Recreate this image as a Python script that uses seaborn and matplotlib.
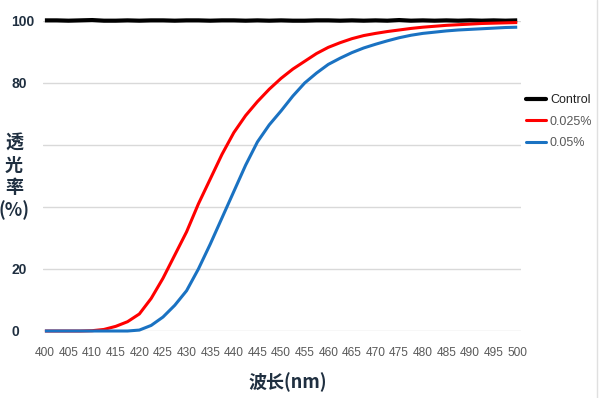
import matplotlib
matplotlib.use("Agg")
import matplotlib.pyplot as plt
import seaborn as sns
import pandas as pd
from matplotlib.lines import Line2D

wavelength = [400, 402.5, 405, 407.5, 410, 412.5, 415, 417.5, 420, 422.5, 425, 427.5,
              430, 432.5, 435, 437.5, 440, 442.5, 445, 447.5, 450, 452.5, 455, 457.5,
              460, 462.5, 465, 467.5, 470, 472.5, 475, 477.5, 480, 482.5, 485, 487.5,
              490, 492.5, 495, 497.5, 500]
control = [100.2, 100.2, 100.1, 100.2, 100.3, 100.1, 100.1, 100.2, 100.1, 100.2, 100.2, 100.1,
           100.2, 100.2, 100.1, 100.2, 100.2, 100.1, 100.2, 100.1, 100.2, 100.1, 100.1, 100.2,
           100.2, 100.1, 100.2, 100.1, 100.2, 100.1, 100.3, 100.1, 100.2, 100.1, 100.2, 100.1,
           100.2, 100.1, 100.2, 100.1, 100.2]
conc_0025 = [0, 0, 0, 0, 0.1, 0.5, 1.5, 3.0, 5.5, 10.5, 17, 24.5,
             32, 41, 49, 57, 64, 69.5, 74, 78, 81.5, 84.5, 87, 89.5,
             91.5, 93, 94.3, 95.3, 96, 96.6, 97.1, 97.6, 98, 98.3, 98.6, 98.8,
             99, 99.2, 99.3, 99.4, 99.5]
conc_005 = [0, 0, 0, 0, 0, 0, 0, 0, 0.3, 1.8, 4.5, 8.3,
            13, 20, 28, 36.5, 45, 53.5, 61, 66.5, 71, 75.8, 80, 83.2,
            86, 88, 89.8, 91.3, 92.5, 93.6, 94.6, 95.4, 96, 96.4, 96.8, 97.1,
            97.3, 97.5, 97.7, 97.9, 98]
series_names = ["Control", "0.025%", "0.05%"]
series_colors = ["#000000", "#ff0000", "#1a72c2"]
x_ticks = list(range(400, 505, 5))
y_ticks = [0, 20, 40, 60, 80, 100]
y_tick_labels = ["0", "20", "", "", "80", "100"]

df = pd.DataFrame({
    "wavelength": wavelength * 3,
    "value": control + conc_0025 + conc_005,
    "series": [series_names[0]] * len(wavelength) + [series_names[1]] * len(wavelength)
              + [series_names[2]] * len(wavelength),
})

sns.set_theme(style="white")
plt.rcParams['font.family'] = ['Liberation Sans', 'DejaVu Sans']

fig = plt.figure(figsize=(6.0, 3.98), dpi=100)
ax = fig.add_axes([43 / 600, 1 - 331 / 398, (521 - 43) / 600, (331 - 21) / 398])

sns.lineplot(data=df, x="wavelength", y="value", hue="series",
             palette=dict(zip(series_names, series_colors)), ax=ax, legend=False)
for line, lw in zip(ax.get_lines(), [3.0, 2.2, 2.2]):
    line.set_linewidth(lw)
    line.set_clip_on(False)
    line.set_solid_capstyle("butt")

ax.set_xlim(399.6, 500.8)
ax.set_ylim(0, 100)
for yv in y_ticks:
    ax.axhline(yv, color="#d9d9d9", lw=1.0, zorder=0)
ax.grid(False)
for s in ax.spines.values():
    s.set_visible(False)

ax.set_xticks(x_ticks)
ax.set_xticklabels([str(t) for t in x_ticks], fontsize=8.6, color="#595959")
ax.set_yticks(y_ticks)
ax.set_yticklabels(y_tick_labels, fontsize=10, fontweight="bold", color="#1f2f40",
                   ha="left")
ax.tick_params(axis="y", length=0, pad=23)
ax.tick_params(axis="x", length=0, pad=11.5)
ax.set_xlabel("")
ax.set_ylabel("")

fig.text(14 / 600, 1 - 177 / 398, "透\n光\n率\n(%)", ha="center", va="center",
         fontsize=13, fontweight="bold", color="#1f2f40", linespacing=1.2,
         family=['Noto Sans CJK SC', 'DejaVu Sans'])
fig.text(288 / 600, 1 - 382 / 398, "波长(nm)", ha="center", va="center",
         fontsize=13, fontweight="bold", color="#1f2f40",
         family=['Noto Sans CJK SC', 'DejaVu Sans'])

handles = [Line2D([0], [0], color=c, lw=lw) for c, lw in zip(series_colors, [3.0, 2.2, 2.2])]
leg = fig.legend(handles, series_names, loc="upper left",
                 bbox_to_anchor=(515 / 600, 1 - 83 / 398), frameon=False,
                 fontsize=9, handlelength=1.6, handletextpad=0.3, labelspacing=0.75)
for t, c in zip(leg.get_texts(), ["#222222", "#595959", "#595959"]):
    t.set_color(c)

fig.add_artist(Line2D([597 / 600, 597 / 600], [0, 1], color="#e0e0e0", lw=1,
                      transform=fig.transFigure))

fig.savefig("out.png", dpi=100)
